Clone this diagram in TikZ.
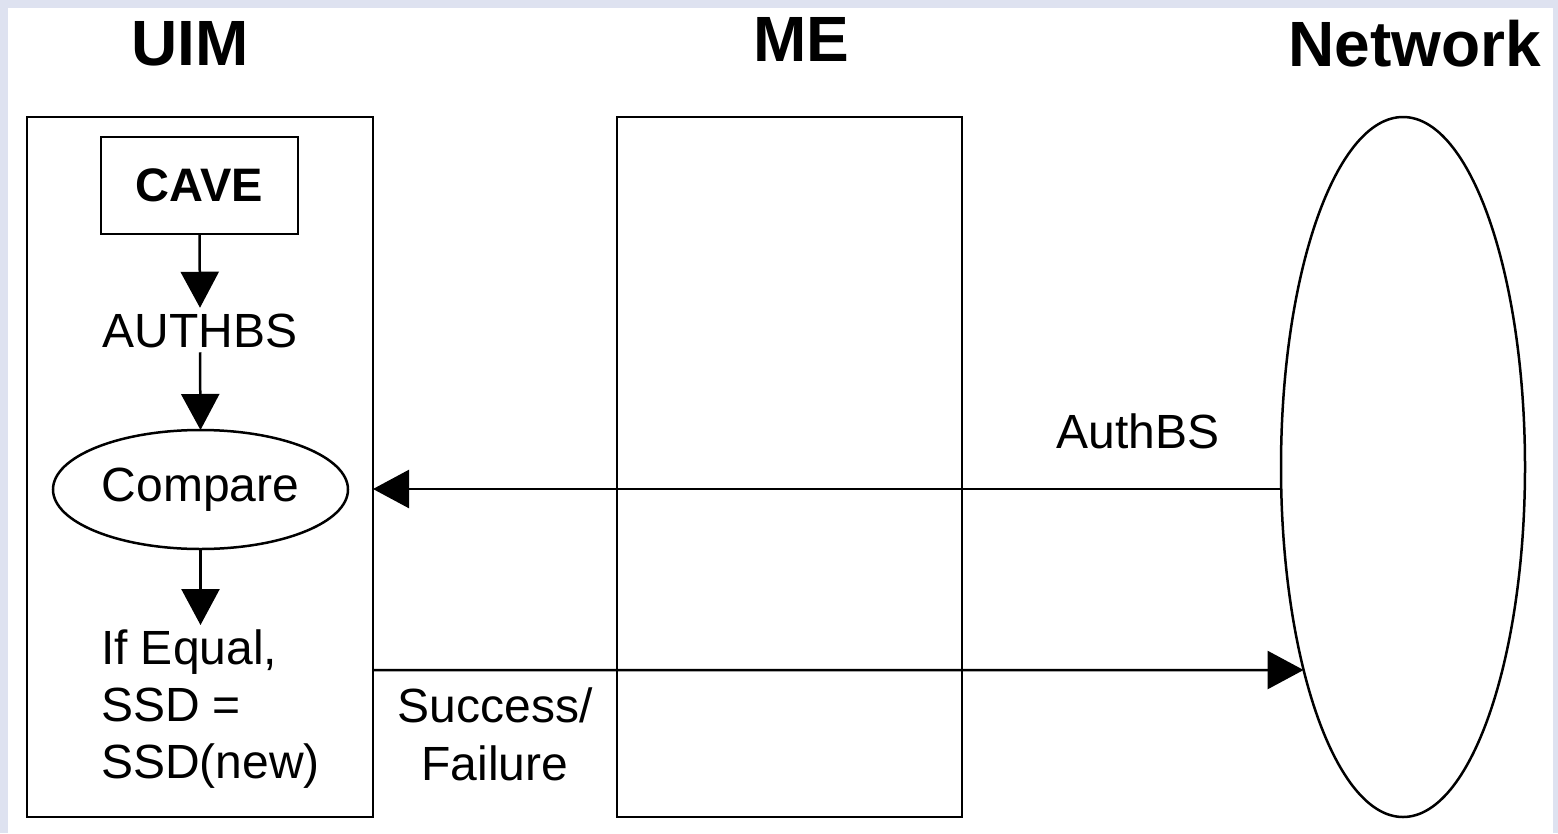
\documentclass[tikz,border=0pt]{standalone}
\usepackage{fontspec}
\setmainfont{Liberation Sans}
\usetikzlibrary{arrows.meta,shapes.geometric,intersections}
\definecolor{frame}{RGB}{222,226,240}
\begin{document}
\begin{tikzpicture}[x=1pt,y=-1pt,
  every node/.style={inner sep=0pt,outer sep=0pt},
  title/.style={font=\fontsize{64}{72}\selectfont\bfseries,text height=46pt,text depth=0pt},
  lbl/.style={font=\fontsize{48}{57}\selectfont,text height=34.5pt,text depth=0pt},
  box/.style={draw,line width=2.5pt,rectangle},
  oval/.style={draw,line width=2.5pt,ellipse},
  arr/.style={line width=2.5pt,-{Triangle[length=36pt,width=38pt]}}]
\fill[frame] (0,0) rectangle (1558,833);
\fill[white] (8,8) rectangle (1553,833);
\useasboundingbox (0,0) rectangle (1558,833);
% titles
\node[title] (tuim) at (190,42) {UIM};
\node[title] (tme) at (801,38) {ME};
\node[title] (tnet) at (1415,43) {Network};
% main shapes
\node[box,minimum width=346pt,minimum height=700pt] (uim) at (200,467) {};
\node[box,minimum width=345pt,minimum height=700pt] (me) at (789.5,467) {};
\node[oval,minimum width=244pt,minimum height=700pt] (net) at (1403,467) {};
\path[name path=netp] (net.center) ellipse [x radius=122, y radius=350];
% UIM contents
\node[box,minimum width=197pt,minimum height=97pt,font=\fontsize{47}{55}\selectfont\bfseries] (cave) at (199.5,185.5) {CAVE};
\node[lbl,inner ysep=5pt] (authbs) at (200,330) {AUTHBS};
\node[oval,minimum width=295pt,minimum height=119pt,font=\fontsize{48}{57}\selectfont] (cmp) at (200.5,489.5) {Compare};
\node[font=\fontsize{48}{57}\selectfont,align=left,anchor=north west,inner ysep=5pt] (ifeq) at (101,625) {If Equal,\\SSD =\\SSD(new)};
\draw[arr] (cave.south) -- (authbs.north);
\draw[arr] (authbs.south) -- (cmp.north);
\draw[arr] (cmp.south) -- (cmp.south |- ifeq.north);
% messages
\coordinate (authy) at (0,489);
\draw[arr] (net.west |- authy) -- (uim.east |- authy);
\node[lbl] (lauth) at (1138,431) {AuthBS};
\coordinate (succy) at (0,670);
\path[name path=succp] (uim.east |- succy) -- (net.center |- succy);
\path[name intersections={of=netp and succp,by=succend}];
\draw[arr] (uim.east |- succy) -- (succend);
\node[font=\fontsize{48}{58}\selectfont,align=center,anchor=north] (lsucc) at (495,688) {Success/\\Failure};
\end{tikzpicture}
\end{document}
